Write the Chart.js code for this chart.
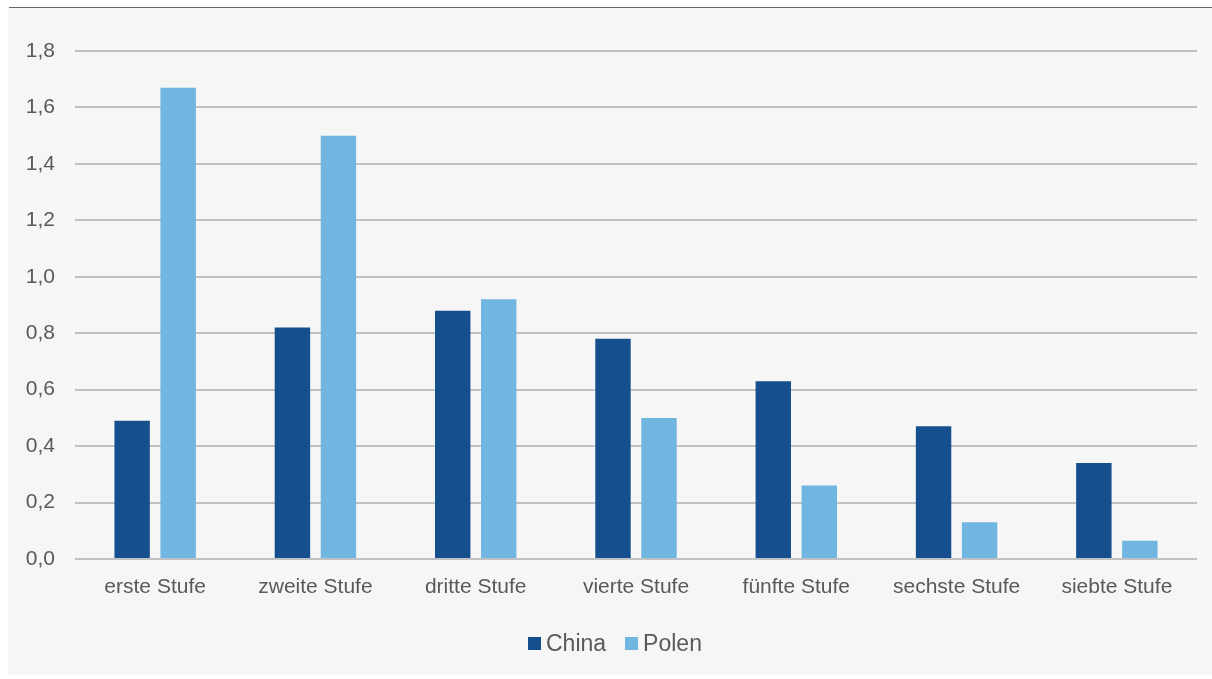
<!DOCTYPE html>
<html>
<head>
<meta charset="utf-8">
<script src="https://cdn.jsdelivr.net/npm/chart.js@4/dist/chart.umd.min.js"></script>
<style>
html,body{margin:0;padding:0;background:#ffffff;width:1212px;height:679px;overflow:hidden;}
#bg{position:absolute;left:8px;top:8px;width:1204px;height:667px;background:#f6f6f6;}
#topline{position:absolute;left:9px;top:7px;width:1203px;height:1px;background:#62666b;}
#c{position:absolute;left:0;top:0;}
#legend{position:absolute;left:528px;top:630px;display:flex;align-items:center;font-family:'Liberation Sans',Arial,sans-serif;font-size:23px;color:#595959;line-height:26px;}
#legend .item{display:flex;align-items:center;margin-right:19px;}
#legend .box{width:13px;height:13px;margin-right:5px;}
</style>
</head>
<body>
<div id="bg"></div>
<div id="topline"></div>
<canvas id="c" width="1212" height="679"></canvas>
<div id="legend"></div>
<script>
const categories = ["erste Stufe","zweite Stufe","dritte Stufe","vierte Stufe","fünfte Stufe","sechste Stufe","siebte Stufe"];
const chinaValues = [0.49, 0.82, 0.88, 0.78, 0.63, 0.47, 0.34];
const polenValues = [1.67, 1.50, 0.92, 0.50, 0.26, 0.13, 0.065];
const seriesNames = ["China","Polen"];
const seriesColors = ["#154f8d","#71b6e0"];

const font = "'Liberation Sans', Arial, sans-serif";

const chart = new Chart(document.getElementById('c'), {
  type: 'bar',
  data: {
    labels: categories,
    datasets: [
      {label: seriesNames[0], data: chinaValues, backgroundColor: seriesColors[0], categoryPercentage: 0.574, barPercentage: 0.77},
      {label: seriesNames[1], data: polenValues, backgroundColor: seriesColors[1], categoryPercentage: 0.574, barPercentage: 0.77}
    ]
  },
  options: {
    responsive: false,
    animation: false,
    devicePixelRatio: 1,
    layout: {padding: {left: 0, right: 15, top: 51, bottom: 80}},
    plugins: {
      tooltip: {enabled: false},
      legend: {display: false}
    },
    scales: {
      x: {
        afterFit: (s) => { s.height = 40; },
        grid: {display: false, drawTicks: false},
        border: {display: false},
        ticks: {color: '#595959', font: {family: font, size: 21}, padding: 16, maxRotation: 0}
      },
      y: {
        min: 0, max: 1.8,
        afterFit: (s) => { s.width = 75; },
        grid: {color: '#bfc1c3', lineWidth: 2, drawTicks: false},
        border: {display: false},
        ticks: {
          stepSize: 0.2, color: '#595959', font: {family: font, size: 21}, padding: 20,
          callback: (v) => v.toFixed(1).replace('.', ',')
        }
      }
    }
  }
});

const legendEl = document.getElementById('legend');
chart.data.datasets.forEach((ds) => {
  const item = document.createElement('div');
  item.className = 'item';
  const box = document.createElement('span');
  box.className = 'box';
  box.style.background = ds.backgroundColor;
  const txt = document.createElement('span');
  txt.textContent = ds.label;
  item.appendChild(box);
  item.appendChild(txt);
  legendEl.appendChild(item);
});
</script>
</body>
</html>
